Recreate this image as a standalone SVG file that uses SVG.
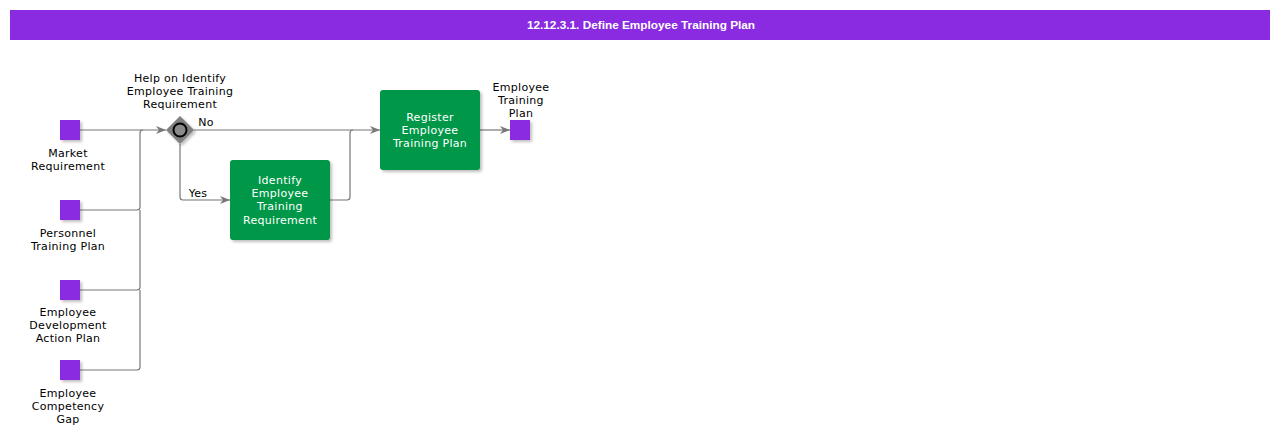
<svg xmlns="http://www.w3.org/2000/svg" width="1280" height="437" viewBox="0 0 1280 437">
<defs>
<style>
.lbl{font-family:"DejaVu Sans",sans-serif;font-size:11px;fill:#000;text-anchor:middle;letter-spacing:0.3px}
.wl{font-family:"DejaVu Sans",sans-serif;font-size:11px;fill:#fff;text-anchor:middle;letter-spacing:0.3px}
.obj{fill:#8a2be2}
.task{fill:#009748}
.sh{fill:#000;opacity:0.25}
.con{fill:none;stroke:#777;stroke-width:1.2}
</style>
<marker id="arr" viewBox="0 0 10 10" refX="10" refY="5" markerWidth="10" markerHeight="10" markerUnits="userSpaceOnUse" orient="auto">
<path d="M0,1 L10,5 L0,9 L3,5 Z" fill="#777"/>
</marker>
<filter id="blur" x="-20%" y="-20%" width="140%" height="140%"><feGaussianBlur stdDeviation="1.5"/></filter>
</defs>
<rect width="1280" height="437" fill="#fff"/>
<g id="header">
<rect x="10" y="10" width="1260" height="30" fill="#8a2be2"/>
<text x="641" y="29" font-family="Liberation Sans,Arial,sans-serif" font-size="11.8" font-weight="bold" fill="#fff" text-anchor="middle">12.12.3.1. Define Employee Training Plan</text>
</g>
<g id="connectors">
<path class="con" d="M80,130 H166" marker-end="url(#arr)"/>
<path class="con" d="M80,210 H137 Q140,210 140,207 V133 Q140,130 143,130"/>
<path class="con" d="M80,290 H137 Q140,290 140,287 V210"/>
<path class="con" d="M80,370 H137 Q140,370 140,367 V290"/>
<path class="con" d="M194,130 H380" marker-end="url(#arr)"/>
<path class="con" d="M180,144 V197 Q180,200 183,200 H230" marker-end="url(#arr)"/>
<path class="con" d="M330,200 H347 Q350,200 350,197 V133 Q350,130 353,130"/>
<path class="con" d="M480,130 H510" marker-end="url(#arr)"/>
<text class="lbl" x="206" y="126">No</text>
<text class="lbl" x="198" y="197">Yes</text>
</g>
<g id="market-requirement">
<rect class="sh" x="62" y="122" width="20" height="20" filter="url(#blur)"/>
<rect class="obj" x="60" y="120" width="20" height="20"/>
<text class="lbl" x="68" y="157">Market</text>
<text class="lbl" x="68" y="170">Requirement</text>
</g>
<g id="personnel-training-plan">
<rect class="sh" x="62" y="202" width="20" height="20" filter="url(#blur)"/>
<rect class="obj" x="60" y="200" width="20" height="20"/>
<text class="lbl" x="68" y="237">Personnel</text>
<text class="lbl" x="68" y="250">Training Plan</text>
</g>
<g id="employee-development-action-plan">
<rect class="sh" x="62" y="282" width="20" height="20" filter="url(#blur)"/>
<rect class="obj" x="60" y="280" width="20" height="20"/>
<text class="lbl" x="68" y="316">Employee</text>
<text class="lbl" x="68" y="329">Development</text>
<text class="lbl" x="68" y="342">Action Plan</text>
</g>
<g id="employee-competency-gap">
<rect class="sh" x="62" y="362" width="20" height="20" filter="url(#blur)"/>
<rect class="obj" x="60" y="360" width="20" height="20"/>
<text class="lbl" x="68" y="397">Employee</text>
<text class="lbl" x="68" y="410">Competency</text>
<text class="lbl" x="68" y="423">Gap</text>
</g>
<g id="gateway">
<path class="sh" d="M182,118 L196,132 L182,146 L168,132 Z" filter="url(#blur)"/>
<path d="M180,116 L194,130 L180,144 L166,130 Z" fill="#808080"/>
<circle cx="180" cy="130" r="6.5" fill="#8a8a8a" stroke="#000" stroke-width="2"/>
<text class="lbl" x="180" y="82">Help on Identify</text>
<text class="lbl" x="180" y="95">Employee Training</text>
<text class="lbl" x="180" y="108">Requirement</text>
</g>
<g id="identify-employee-training-requirement">
<rect class="sh" x="232" y="162" width="100" height="80" rx="3" filter="url(#blur)"/>
<rect class="task" x="230" y="160" width="100" height="80" rx="3"/>
<text class="wl" x="280" y="184">Identify</text>
<text class="wl" x="280" y="197">Employee</text>
<text class="wl" x="280" y="210">Training</text>
<text class="wl" x="280" y="224">Requirement</text>
</g>
<g id="register-employee-training-plan">
<rect class="sh" x="382" y="92" width="100" height="80" rx="3" filter="url(#blur)"/>
<rect class="task" x="380" y="90" width="100" height="80" rx="3"/>
<text class="wl" x="430" y="121">Register</text>
<text class="wl" x="430" y="134">Employee</text>
<text class="wl" x="430" y="147">Training Plan</text>
</g>
<g id="employee-training-plan">
<rect class="sh" x="512" y="122" width="20" height="20" filter="url(#blur)"/>
<rect class="obj" x="510" y="120" width="20" height="20"/>
<text class="lbl" x="521" y="91">Employee</text>
<text class="lbl" x="521" y="104">Training</text>
<text class="lbl" x="521" y="117">Plan</text>
</g>
</svg>
